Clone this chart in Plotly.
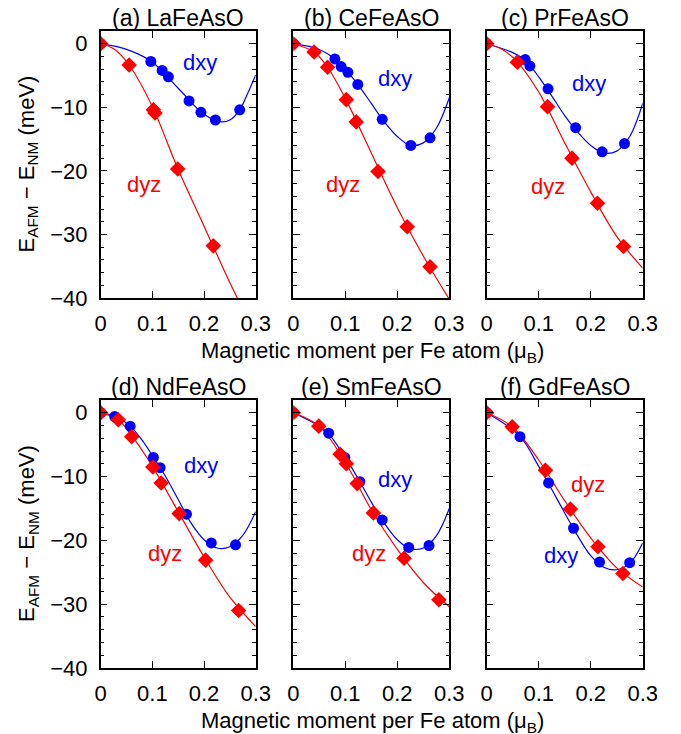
import plotly.graph_objects as go

W, H = 681, 734
OFF = 8  # the page body adds an 8px margin around the plot div

panel_tags = ["(a)", "(b)", "(c)", "(d)", "(e)", "(f)"]
compounds = ["LaFeAsO", "CeFeAsO", "PrFeAsO", "NdFeAsO", "SmFeAsO", "GdFeAsO"]

x_ticks = [0, 0.1, 0.2, 0.3]
x_ticktext = ["0", "0.1", "0.2", "0.3"]
y_ticks = [0, -10, -20, -30, -40]

# --- LaFeAsO ---
la_dxy_x = [0, 0.097, 0.119, 0.131, 0.171, 0.194, 0.222, 0.269]
la_dxy_y = [0, -2.8, -4.2, -5.2, -9.0, -10.8, -12.0, -10.4]
la_dyz_x = [0, 0.055, 0.102, 0.105, 0.149, 0.218]
la_dyz_y = [0, -3.35, -10.4, -10.9, -19.7, -31.8]
la_dxy_fit_x = [0, 0.05, 0.1, 0.15, 0.2, 0.234, 0.25, 0.269, 0.285, 0.3]
la_dxy_fit_y = [0, -0.9, -2.9, -7.0, -11.1, -12.3, -12.0, -10.4, -7.7, -4.9]
la_dyz_fit_x = [0, 0.025, 0.055, 0.1, 0.15, 0.2, 0.25, 0.27]
la_dyz_fit_y = [0, -0.8, -3.35, -9.9, -19.8, -28.7, -37.6, -40.9]

# --- CeFeAsO ---
ce_dxy_x = [0, 0.080, 0.092, 0.105, 0.124, 0.171, 0.226, 0.263]
ce_dxy_y = [0, -2.4, -3.6, -4.5, -6.4, -11.9, -16.0, -14.8]
ce_dyz_x = [0, 0.040, 0.066, 0.102, 0.121, 0.163, 0.219, 0.263]
ce_dyz_y = [0, -1.3, -3.7, -8.8, -12.3, -20.1, -28.8, -35.1]
ce_dxy_fit_x = [0, 0.05, 0.08, 0.1, 0.125, 0.15, 0.175, 0.2, 0.225, 0.25, 0.275, 0.3]
ce_dxy_fit_y = [0, -0.9, -2.4, -4.0, -6.5, -9.4, -12.3, -14.6, -16.0, -15.6, -13.3, -8.5]
ce_dyz_fit_x = [0, 0.04, 0.066, 0.1, 0.15, 0.2, 0.25, 0.3]
ce_dyz_fit_y = [0, -1.3, -3.7, -8.6, -17.2, -25.8, -33.4, -40.2]

# --- PrFeAsO ---
pr_dxy_x = [0, 0.074, 0.083, 0.118, 0.171, 0.222, 0.265]
pr_dxy_y = [0, -2.5, -3.5, -7.1, -13.2, -17.0, -15.7]
pr_dyz_x = [0, 0.059, 0.117, 0.164, 0.213, 0.263]
pr_dyz_y = [0, -2.9, -9.9, -18.0, -25.1, -31.9]
pr_dxy_fit_x = [0, 0.05, 0.074, 0.1, 0.125, 0.15, 0.175, 0.2, 0.225, 0.25, 0.275, 0.3]
pr_dxy_fit_y = [0, -1.4, -2.6, -5.2, -8.2, -11.3, -13.9, -16.0, -17.2, -16.9, -14.6, -9.4]
pr_dyz_fit_x = [0, 0.03, 0.059, 0.1, 0.15, 0.2, 0.25, 0.3]
pr_dyz_fit_y = [0, -0.9, -2.9, -7.6, -15.6, -23.3, -30.3, -35.3]

# --- NdFeAsO ---
nd_dxy_x = [0, 0.027, 0.057, 0.102, 0.115, 0.166, 0.214, 0.261]
nd_dxy_y = [0, -0.6, -2.1, -7.0, -8.6, -15.9, -20.4, -20.7]
nd_dyz_x = [0, 0.034, 0.060, 0.101, 0.117, 0.152, 0.203, 0.267]
nd_dyz_y = [0, -1.1, -3.75, -8.5, -11.0, -15.8, -23.1, -31.0]
nd_dxy_fit_x = [0, 0.027, 0.057, 0.08, 0.1, 0.125, 0.15, 0.175, 0.2, 0.225, 0.25, 0.275, 0.3]
nd_dxy_fit_y = [0, -0.5, -2.1, -4.3, -6.7, -9.9, -13.6, -17.3, -19.9, -21.2, -21.0, -19.2, -15.5]
nd_dyz_fit_x = [0, 0.034, 0.06, 0.1, 0.15, 0.2, 0.25, 0.3]
nd_dyz_fit_y = [0, -1.1, -3.6, -8.4, -15.5, -22.6, -28.9, -33.5]

# --- SmFeAsO ---
sm_dxy_x = [0, 0.068, 0.099, 0.128, 0.171, 0.222, 0.261]
sm_dxy_y = [0, -3.2, -7.0, -10.8, -16.8, -21.1, -20.8]
sm_dyz_x = [0, 0.049, 0.090, 0.102, 0.123, 0.154, 0.213, 0.280]
sm_dyz_y = [0, -2.1, -6.5, -8.0, -11.1, -15.7, -22.8, -29.3]
sm_dxy_fit_x = [0, 0.05, 0.068, 0.1, 0.128, 0.15, 0.175, 0.2, 0.225, 0.25, 0.275, 0.3]
sm_dxy_fit_y = [0, -2.1, -3.3, -7.0, -10.8, -14.0, -17.3, -19.9, -21.3, -21.2, -19.3, -15.0]
sm_dyz_fit_x = [0, 0.05, 0.1, 0.15, 0.2, 0.25, 0.3]
sm_dyz_fit_y = [0, -2.1, -7.8, -15.2, -21.4, -26.6, -30.4]

# --- GdFeAsO ---
gd_dxy_x = [0, 0.064, 0.119, 0.167, 0.217, 0.275]
gd_dxy_y = [0, -3.75, -11.0, -18.1, -23.4, -23.5]
gd_dyz_x = [0, 0.049, 0.113, 0.161, 0.214, 0.262]
gd_dyz_y = [0, -2.2, -9.0, -15.1, -21.0, -25.2]
gd_dxy_fit_x = [0, 0.064, 0.1, 0.125, 0.15, 0.175, 0.2, 0.225, 0.25, 0.275, 0.3]
gd_dxy_fit_y = [0, -3.7, -8.4, -12.0, -15.7, -19.3, -22.4, -24.2, -24.6, -23.6, -20.4]
gd_dyz_fit_x = [0, 0.049, 0.1, 0.15, 0.2, 0.25, 0.3]
gd_dyz_fit_y = [0, -2.2, -7.4, -13.8, -19.6, -24.3, -27.3]

# label positions (data coords) for "dxy" / "dyz"
dxy_label_x = [0.192, 0.196, 0.196, 0.194, 0.195, 0.142]
dxy_label_y = [-3.0, -5.4, -6.2, -8.3, -10.5, -22.4]
dyz_label_x = [0.083, 0.095, 0.117, 0.125, 0.145, 0.194]
dyz_label_y = [-22.1, -22.1, -22.4, -22.1, -22.1, -11.3]

panels = [
    (la_dxy_x, la_dxy_y, la_dyz_x, la_dyz_y, la_dxy_fit_x, la_dxy_fit_y, la_dyz_fit_x, la_dyz_fit_y),
    (ce_dxy_x, ce_dxy_y, ce_dyz_x, ce_dyz_y, ce_dxy_fit_x, ce_dxy_fit_y, ce_dyz_fit_x, ce_dyz_fit_y),
    (pr_dxy_x, pr_dxy_y, pr_dyz_x, pr_dyz_y, pr_dxy_fit_x, pr_dxy_fit_y, pr_dyz_fit_x, pr_dyz_fit_y),
    (nd_dxy_x, nd_dxy_y, nd_dyz_x, nd_dyz_y, nd_dxy_fit_x, nd_dxy_fit_y, nd_dyz_fit_x, nd_dyz_fit_y),
    (sm_dxy_x, sm_dxy_y, sm_dyz_x, sm_dyz_y, sm_dxy_fit_x, sm_dxy_fit_y, sm_dyz_fit_x, sm_dyz_fit_y),
    (gd_dxy_x, gd_dxy_y, gd_dyz_x, gd_dyz_y, gd_dxy_fit_x, gd_dxy_fit_y, gd_dyz_fit_x, gd_dyz_fit_y),
]

BLUE = "#0000ff"
RED = "#ff0000"
FONT = "Liberation Sans, Arial, Helvetica, sans-serif"
FS = 22

# panel frames in screen pixels (left, right) / (top, bottom)
cols_px = [(100.7, 255.7), (293.3, 449.3), (486.7, 642.7)]
rows_px = [(31, 298), (400, 668)]


def px(x):
    return (x - OFF) / W


def py(y):
    return 1 - (y - OFF) / H


fig = go.Figure()
annotations = []

for i, (dxy_x, dxy_y, dyz_x, dyz_y, fxy_x, fxy_y, fyz_x, fyz_y) in enumerate(panels):
    r, c = divmod(i, 3)
    n = "" if i == 0 else str(i + 1)
    xa, ya = "x" + n, "y" + n
    x0, x1 = cols_px[c]
    t0, t1 = rows_px[r]

    fig.add_trace(go.Scatter(x=fxy_x, y=fxy_y, mode="lines", line=dict(color=BLUE, width=1.2, shape="spline", smoothing=1.0),
                             xaxis=xa, yaxis=ya, showlegend=False, hoverinfo="skip"))
    fig.add_trace(go.Scatter(x=fyz_x, y=fyz_y, mode="lines", line=dict(color=RED, width=1.2, shape="spline", smoothing=1.0),
                             xaxis=xa, yaxis=ya, showlegend=False, hoverinfo="skip"))
    fig.add_trace(go.Scatter(x=dxy_x, y=dxy_y, mode="markers", marker=dict(symbol="circle", size=11, color=BLUE),
                             xaxis=xa, yaxis=ya, showlegend=False, name="dxy"))
    fig.add_trace(go.Scatter(x=dyz_x, y=dyz_y, mode="markers", marker=dict(symbol="diamond", size=12, color=RED),
                             xaxis=xa, yaxis=ya, showlegend=False, name="dyz"))

    common = dict(showline=True, linecolor="black", linewidth=1.5, mirror="allticks",
                  ticks="inside", ticklen=7, tickwidth=1.2, tickcolor="black",
                  showgrid=False, zeroline=False, automargin=False,
                  tickfont=dict(family=FONT, size=FS, color="black"))
    fig.layout["xaxis" + n] = dict(
        domain=[px(x0), px(x1)], anchor=ya, range=[0, 0.3],
        tickvals=x_ticks, ticktext=x_ticktext, ticklabelstandoff=5, **common)
    fig.layout["yaxis" + n] = dict(
        domain=[py(t1), py(t0)], anchor=xa, range=[-40, 2],
        tickvals=y_ticks, showticklabels=(c == 0), ticklabelstandoff=7,
        minor=dict(dtick=2, ticks="inside", ticklen=4, tickwidth=1, tickcolor="black"),
        **common)

    annotations.append(dict(xref=xa, yref=ya, x=dxy_label_x[i], y=dxy_label_y[i], text="dxy", showarrow=False,
                            font=dict(family=FONT, size=FS, color=BLUE)))
    annotations.append(dict(xref=xa, yref=ya, x=dyz_label_x[i], y=dyz_label_y[i], text="dyz", showarrow=False,
                            font=dict(family=FONT, size=FS, color=RED)))
    annotations.append(dict(xref="paper", yref="paper", x=px((x0 + x1) / 2), y=py(t0 - 13),
                            text=f"{panel_tags[i]} {compounds[i]}", showarrow=False,
                            font=dict(family=FONT, size=23, color="black"), xanchor="center", yanchor="middle"))

for r, (t0, t1) in enumerate(rows_px):
    annotations.append(dict(xref="paper", yref="paper", x=px(372), y=py(t1 + 54),
                            text="Magnetic moment per Fe atom (μ<sub>B</sub>)", showarrow=False,
                            font=dict(family=FONT, size=FS, color="black"), xanchor="center", yanchor="middle"))
    annotations.append(dict(xref="paper", yref="paper", x=px(28), y=py((t0 + t1) / 2),
                            text="E<sub>AFM</sub> − E<sub>NM</sub> (meV)", showarrow=False, textangle=-90,
                            font=dict(family=FONT, size=FS, color="black"), xanchor="center", yanchor="middle"))

fig.update_layout(
    template="none",
    width=W, height=H,
    margin=dict(l=0, r=0, t=0, b=0, pad=0, autoexpand=False),
    paper_bgcolor="white", plot_bgcolor="white",
    annotations=annotations,
)

fig.write_html("out.html")
